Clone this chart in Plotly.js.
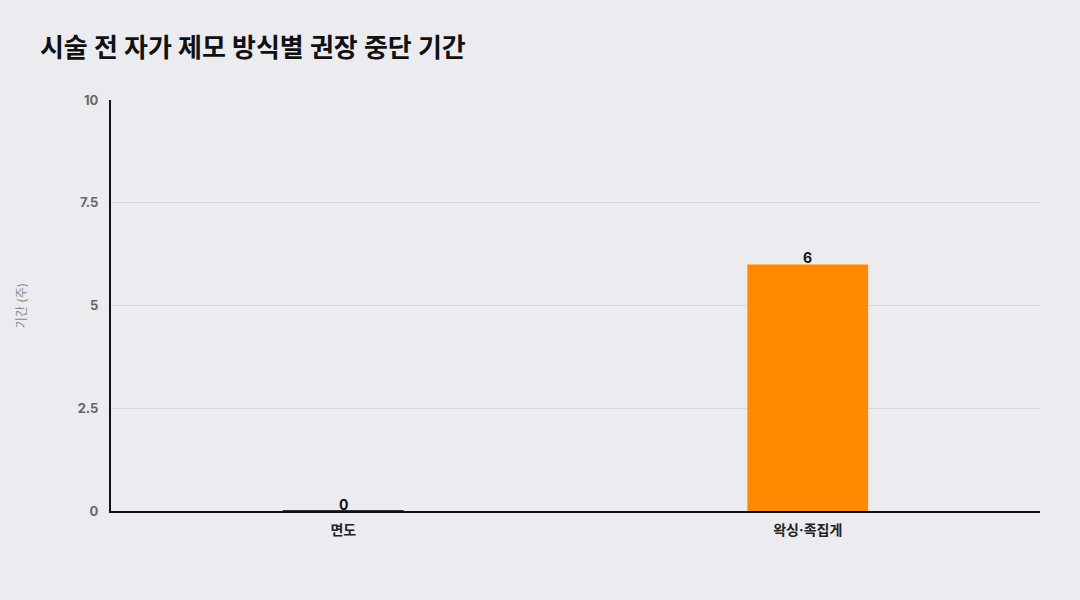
<!DOCTYPE html>
<html><head><meta charset="utf-8">
<script src="https://cdn.plot.ly/plotly-3.0.1.min.js"></script>
<style>html,body{margin:0;padding:0;background:#ECEBF0;}#chart{width:1080px;height:600px;}</style>
</head><body><div id="chart"></div>
<script>
const categories = ['면도', '왁싱·족집게'];
const values = [0, 6];
const barColors = ['#333333', '#FF8A00'];
const yTicks = [0, 2.5, 5, 7.5, 10];
const yTickLabels = ['0', '2.5', '5', '7.5', '10'];
const FONT = "Inter, 'Noto Sans CJK KR', sans-serif";
Plotly.newPlot('chart', [{
  type: 'bar', x: categories, y: values,
  marker: {color: barColors, line: {color: ['#333333', 'rgba(0,0,0,0)'], width: [2, 0]}},
  width: 0.26,
  hoverinfo: 'skip'
}], {
  width: 1080, height: 600,
  paper_bgcolor: '#ECEBF0', plot_bgcolor: '#ECEBF0',
  margin: {l: 111, r: 40, t: 100, b: 89},
  title: {text: '<b>시술 전 자가 제모 방식별 권장 중단 기간</b>', x: 0.037, xanchor: 'left', y: 0.92, yanchor: 'middle',
    font: {family: FONT, size: 26, color: '#111111'}},
  xaxis: {showline: true, linecolor: '#111111', linewidth: 2, ticks: '', showgrid: false, ticklabelstandoff: 5,
    tickfont: {family: FONT, size: 14, color: '#222222', weight: 700}},
  yaxis: {range: [0, 10], tickvals: yTicks, ticktext: yTickLabels, showline: true, linecolor: '#111111', linewidth: 2,
    gridcolor: '#D8D7DE', zeroline: false, ticks: '', ticklabelstandoff: 8,
    tickfont: {family: FONT, size: 13, color: '#666666', weight: 700},
    title: {text: '기간 (주)', standoff: 48, font: {family: FONT, size: 12, color: '#888888'}}},
  annotations: categories.map((c, i) => ({
    x: c, y: values[i], xref: 'x', yref: 'y', text: String(values[i]), showarrow: false,
    yanchor: 'bottom', yshift: -4,
    font: {family: FONT, size: 14, color: '#111111', weight: 700}
  })),
  showlegend: false
}, {displayModeBar: false});
</script></body></html>
